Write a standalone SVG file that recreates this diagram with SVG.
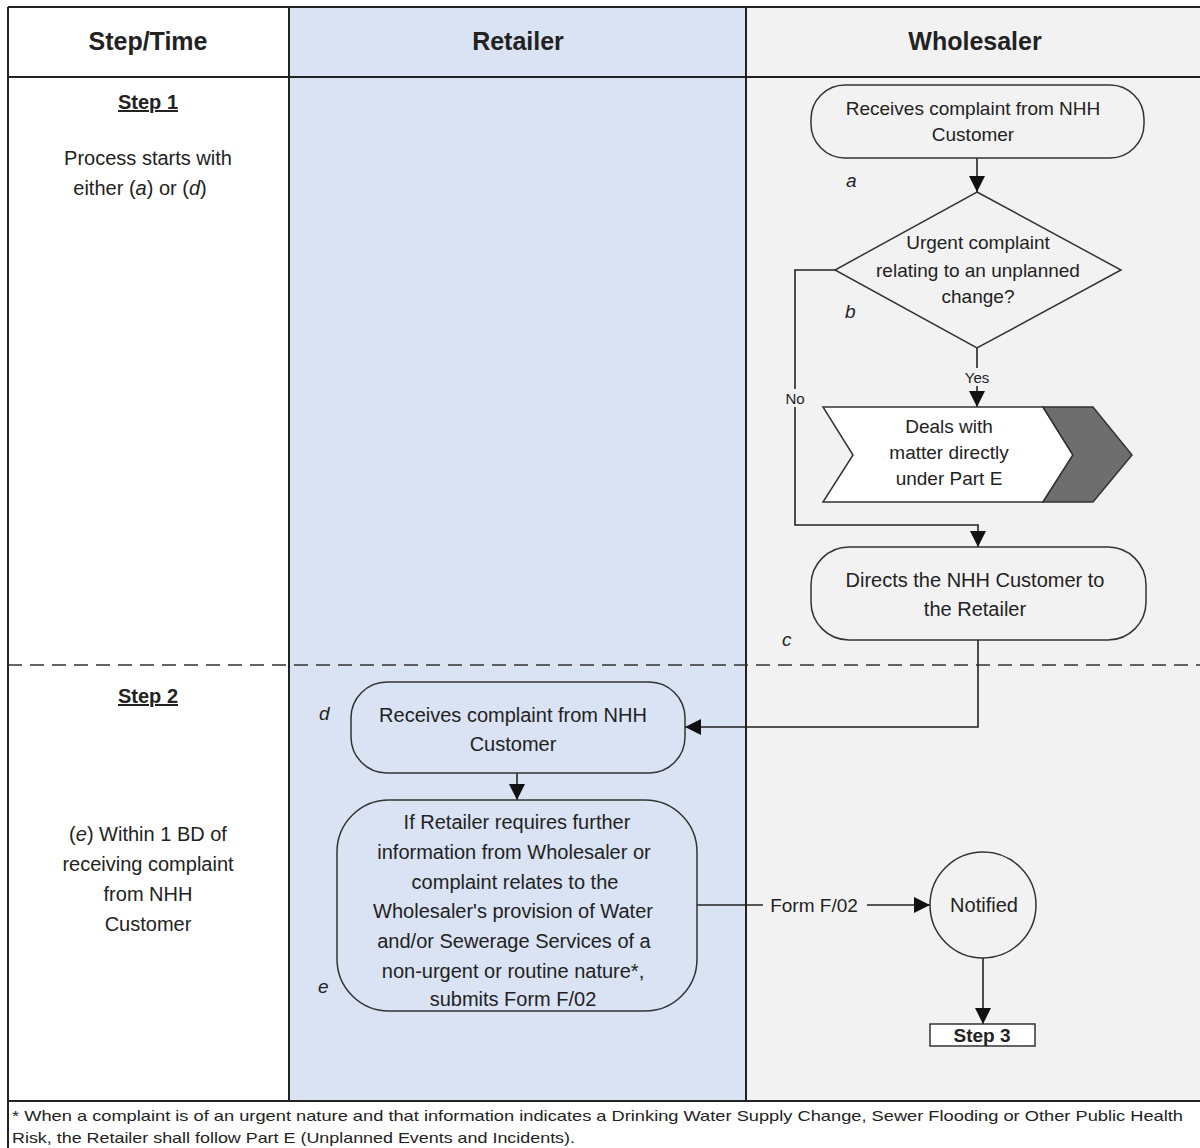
<svg xmlns="http://www.w3.org/2000/svg" width="1200" height="1148" viewBox="0 0 1200 1148">
<style>
text{font-family:"Liberation Sans",Arial,sans-serif;fill:#222;}
.hd{font-size:25px;font-weight:bold;text-anchor:middle;}
.t{font-size:19px;text-anchor:middle;}
.s{font-size:15px;text-anchor:middle;}
.lbl{font-size:19px;font-style:italic;}
.nd{stroke:#333;stroke-width:1.5;}
.cn{fill:none;stroke:#222;stroke-width:1.6;}
.grid{stroke:#222;stroke-width:2;fill:none;}
</style>
<defs>
<marker id="ah" viewBox="0 0 10 10" refX="10" refY="5" markerWidth="16" markerHeight="16" markerUnits="userSpaceOnUse" orient="auto">
<path d="M0,0 L10,5 L0,10 z" fill="#111"/>
</marker>
</defs>
<rect x="0" y="0" width="1200" height="1148" fill="#ffffff"/>
<g id="lanes">
<rect x="8" y="7" width="281" height="1094" fill="#ffffff"/>
<rect x="289" y="7" width="457" height="1094" fill="#dae3f3"/>
<rect x="746" y="7" width="460" height="1094" fill="#f2f2f2"/>
<rect x="8" y="1101" width="1200" height="47" fill="#ffffff"/>
<path class="grid" d="M8,7 H1210 M8,7 V1148 M8,77 H1210 M289,7 V1101 M746,7 V1101 M8,1101 H1210"/>
<line x1="8" y1="665" x2="1200" y2="665" stroke="#333" stroke-width="1.5" stroke-dasharray="14,8"/>
<text class="hd" x="148" y="50">Step/Time</text>
<text class="hd" x="518" y="50">Retailer</text>
<text class="hd" x="975" y="50">Wholesaler</text>
</g>
<g id="steps">
<text x="148" y="109" style="font-size:20px;font-weight:bold;text-anchor:middle;text-decoration:underline">Step 1</text>
<text class="t" x="148" y="165" style="font-size:20px">Process starts with</text>
<text class="t" x="140" y="195" style="font-size:20px">either (<tspan font-style="italic">a</tspan>) or (<tspan font-style="italic">d</tspan>)</text>
<text x="148" y="703" style="font-size:20px;font-weight:bold;text-anchor:middle;text-decoration:underline">Step 2</text>
<text class="t" x="148" y="841" style="font-size:20px">(<tspan font-style="italic">e</tspan>) Within 1 BD of</text>
<text class="t" x="148" y="871" style="font-size:20px">receiving complaint</text>
<text class="t" x="148" y="901" style="font-size:20px">from NHH</text>
<text class="t" x="148" y="931" style="font-size:20px">Customer</text>
</g>
<g id="connectors">
<line class="cn" x1="977" y1="158" x2="977" y2="192" marker-end="url(#ah)"/>
<line class="cn" x1="977" y1="348" x2="977" y2="407" marker-end="url(#ah)"/>
<polyline class="cn" points="835,270 795,270 795,525 978,525 978,547" marker-end="url(#ah)"/>
<polyline class="cn" points="978,640 978,727 685,727" marker-end="url(#ah)"/>
<line class="cn" x1="517" y1="773" x2="517" y2="800" marker-end="url(#ah)"/>
<line class="cn" x1="697" y1="905" x2="930" y2="905" marker-end="url(#ah)"/>
<line class="cn" x1="983" y1="958" x2="983" y2="1024" marker-end="url(#ah)"/>
<rect x="961" y="368" width="32" height="18" fill="#f2f2f2"/>
<text class="s" x="977" y="383">Yes</text>
<rect x="781" y="389" width="28" height="18" fill="#f2f2f2"/>
<text class="s" x="795" y="404">No</text>
<rect x="763" y="894" width="104" height="22" fill="#f2f2f2"/>
<text class="t" x="814" y="912">Form F/02</text>
</g>
<g id="node-a">
<rect class="nd" x="811" y="85" width="333" height="73" rx="34" fill="#f2f2f2"/>
<text class="t" x="973" y="115">Receives complaint from NHH</text>
<text class="t" x="973" y="141">Customer</text>
<text class="lbl" x="846" y="187">a</text>
</g>
<g id="node-b">
<polygon class="nd" points="977,192 1121,270 977,348 835,270" fill="#f2f2f2"/>
<text class="t" x="978" y="249">Urgent complaint</text>
<text class="t" x="978" y="277">relating to an unplanned</text>
<text class="t" x="978" y="303">change?</text>
<text class="lbl" x="845" y="318">b</text>
</g>
<g id="node-partE">
<polygon class="nd" points="823,407 1043,407 1073,455 1043,502 823,502 853,455" fill="#ffffff"/>
<polygon class="nd" points="1043,407 1093,407 1132,455 1093,502 1043,502 1073,455" fill="#6e6e6e"/>
<text class="t" x="949" y="433">Deals with</text>
<text class="t" x="949" y="459">matter  directly</text>
<text class="t" x="949" y="485">under Part E</text>
</g>
<g id="node-c">
<rect class="nd" x="811" y="547" width="335" height="93" rx="38" fill="#f2f2f2"/>
<text class="t" x="975" y="587" style="font-size:20px">Directs the NHH Customer to</text>
<text class="t" x="975" y="616" style="font-size:20px">the Retailer</text>
<text class="lbl" x="782" y="646">c</text>
</g>
<g id="node-d">
<rect class="nd" x="351" y="682" width="334" height="91" rx="36" fill="#dae3f3"/>
<text class="t" x="513" y="722" style="font-size:20px">Receives complaint from NHH</text>
<text class="t" x="513" y="751" style="font-size:20px">Customer</text>
<text class="lbl" x="319" y="720">d</text>
</g>
<g id="node-e">
<rect class="nd" x="337" y="800" width="360" height="211" rx="52" fill="#dae3f3"/>
<text class="t" x="517" y="829" style="font-size:20px">If Retailer requires further</text>
<text class="t" x="514" y="859" style="font-size:20px">information from Wholesaler or</text>
<text class="t" x="515" y="889" style="font-size:20px">complaint relates to the</text>
<text class="t" x="513" y="918" style="font-size:20px">Wholesaler's provision of Water</text>
<text class="t" x="514" y="948" style="font-size:20px">and/or Sewerage Services of a</text>
<text class="t" x="513" y="978" style="font-size:20px">non-urgent or routine nature*,</text>
<text class="t" x="513" y="1006" style="font-size:20px">submits Form F/02</text>
<text class="lbl" x="318" y="993">e</text>
</g>
<g id="node-notified">
<circle class="nd" cx="983" cy="905" r="53" fill="#f2f2f2"/>
<text class="t" x="984" y="912" style="font-size:20px">Notified</text>
</g>
<g id="node-step3">
<rect class="nd" x="930" y="1024" width="105" height="22" fill="#ffffff"/>
<text x="982" y="1042" style="font-size:19px;font-weight:bold;text-anchor:middle">Step 3</text>
</g>
<g id="footnote">
<text x="12" y="1121" style="font-size:15px" textLength="1171" lengthAdjust="spacingAndGlyphs">* When a complaint is of an urgent nature and that information indicates a Drinking Water Supply Change, Sewer Flooding or Other Public Health</text>
<text x="12" y="1143" style="font-size:15px" textLength="563" lengthAdjust="spacingAndGlyphs">Risk, the Retailer shall follow Part E (Unplanned Events and Incidents).</text>
</g>
</svg>
